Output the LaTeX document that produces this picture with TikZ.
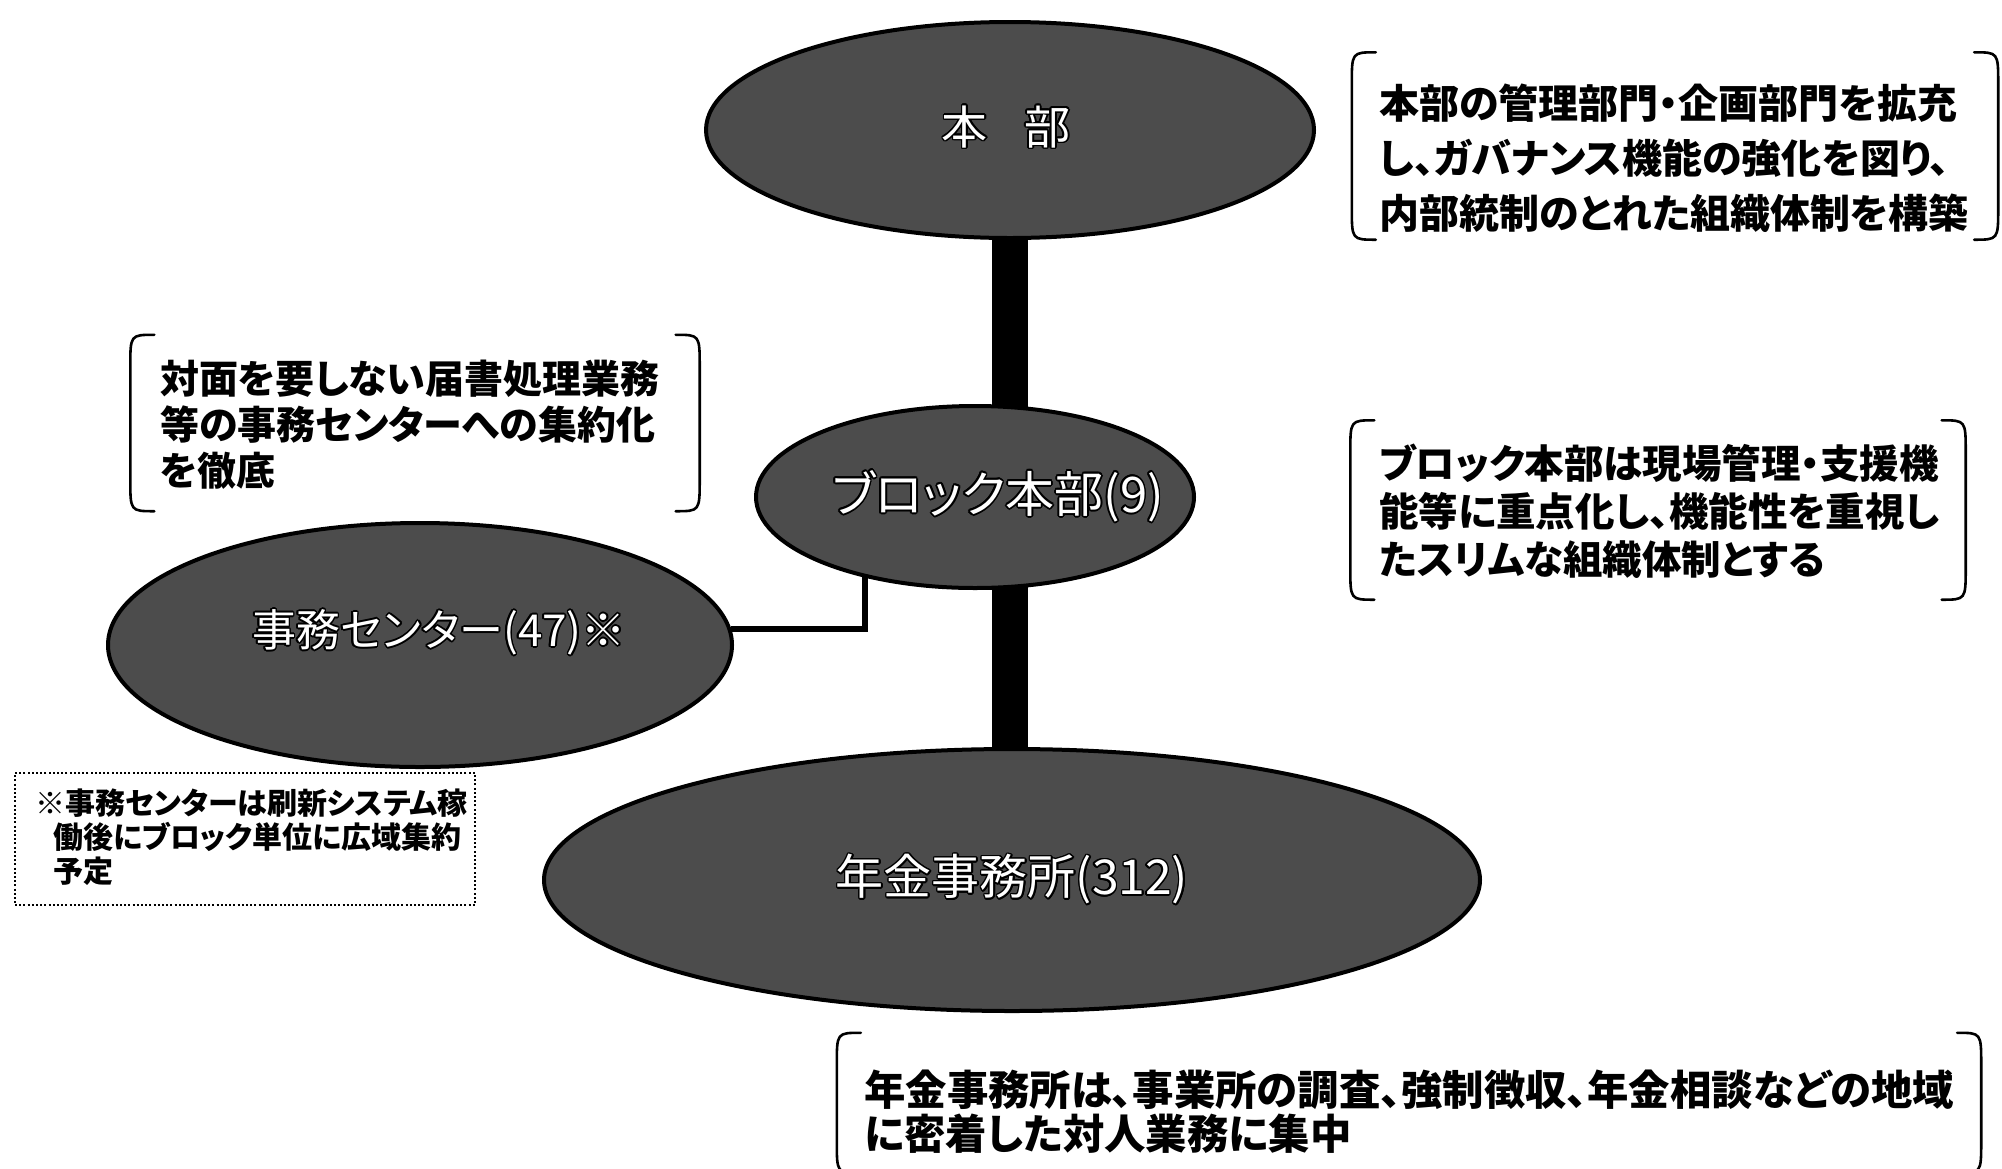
\documentclass[tikz,border=0pt]{standalone}
\usepackage{fontspec}
\setmainfont{Noto Sans CJK JP}[RawFeature={+palt}]
\usepackage{contour}
\contourlength{1.6pt}
\usetikzlibrary{shapes.geometric,calc}
\pgfdeclarelayer{background}
\pgfsetlayers{background,main}
\newcommand\fsz[2]{\fontsize{#1}{#2}\selectfont}
% #1 horizontal shift, #2 vertical shift, #3 text
\newcommand\orgtext[3]{\makebox[0pt]{\hspace*{#1}\raisebox{#2}{\contour{black}{#3}}}}
\newcommand\brackets[1]{%
  \draw[brkline] ([xshift=24pt]#1.north west) .. controls (#1.north west) .. ([yshift=-32pt]#1.north west)
     -- ([yshift=32pt]#1.south west) .. controls (#1.south west) .. ([xshift=24pt]#1.south west);
  \draw[brkline] ([xshift=-24pt]#1.north east) .. controls (#1.north east) .. ([yshift=-32pt]#1.north east)
     -- ([yshift=32pt]#1.south east) .. controls (#1.south east) .. ([xshift=-24pt]#1.south east);}
\begin{document}
\begin{tikzpicture}[x=1pt,y=-1pt,
  org/.style={ellipse, draw=black, line width=4pt, fill=black!70, text=white, inner sep=0pt},
  note/.style={align=left, inner sep=0pt, anchor=west},
  brk/.style={inner sep=0pt},
  brkline/.style={line width=2.6pt, line cap=round},
  bar/.style={line width=36pt},
  link/.style={line width=6pt},
  dotbox/.style={draw, line width=2.4pt, dash pattern=on 2pt off 2.2pt, inner sep=0pt}]
\useasboundingbox (0,0) rectangle (2002,1168);

% organisation ellipses
\node[org, minimum width=608, minimum height=216] (hq) at (1010,130) {\fsz{46}{46}\orgtext{-8pt}{10pt}{本\hspace{0.8em}部}};
\node[org, minimum width=438, minimum height=182] (blk) at (975,497) {\fsz{49}{49}\orgtext{46pt}{0pt}{ブロック本部(9)}};
\node[org, minimum width=624, minimum height=244] (jc) at (420,645) {\fsz{44}{44}\orgtext{38pt}{34pt}{事務センター(47)※}};
\node[org, minimum width=936, minimum height=262] (nk) at (1012,880) {\fsz{48}{48}\orgtext{0pt}{-33pt}{年金事務所(312)}};

\begin{pgfonlayer}{background}
  \fill[white] (0,0) rectangle (2002,1168);
  \draw[bar] (hq.center) -- (hq.center |- nk.center);
  \draw[link] (jc.3.5) -| ([xshift=-110pt]blk.center);
\end{pgfonlayer}

% top right note
\node[brk, minimum width=646, minimum height=187] (b1) at (1675,146) {};
\brackets{b1}
\node[note, font=\fsz{40}{55}\bfseries] (t1) at (1379,158) {本部の管理部門・企画部門を拡充\\し、ガバナンス機能の強化を図り、\\内部統制のとれた組織体制を構築};

% left note
\node[brk, minimum width=569, minimum height=176] (b2) at (415,423) {};
\brackets{b2}
\node[note, font=\fsz{39}{46}\bfseries] (t2) at (160,425) {対面を要しない届書処理業務\\等の事務センターへの集約化\\を徹底};

% right middle note
\node[brk, minimum width=615, minimum height=179] (b3) at (1658,510) {};
\brackets{b3}
\node[note, font=\fsz{39.5}{48}\bfseries] (t3) at (1379,511) {ブロック本部は現場管理・支援機\\能等に重点化し、機能性を重視し\\たスリムな組織体制とする};

% bottom note
\node[brk, minimum width=1144, minimum height=140] (b4) at (1409,1103) {};
\brackets{b4}
\node[note, font=\fsz{41.4}{44}\bfseries] (t4) at (864,1112) {年金事務所は、事業所の調査、強制徴収、年金相談などの地域\\に密着した対人業務に集中};

% dotted footnote box
\node[dotbox, minimum width=460, minimum height=132] (d) at (245,839) {};
\node[note, font=\fsz{30}{34}\bfseries] (t5) at (35,837) {※事務センターは刷新システム稼\\\hspace*{0.6em}働後にブロック単位に広域集約\\\hspace*{0.6em}予定};
\end{tikzpicture}
\end{document}
